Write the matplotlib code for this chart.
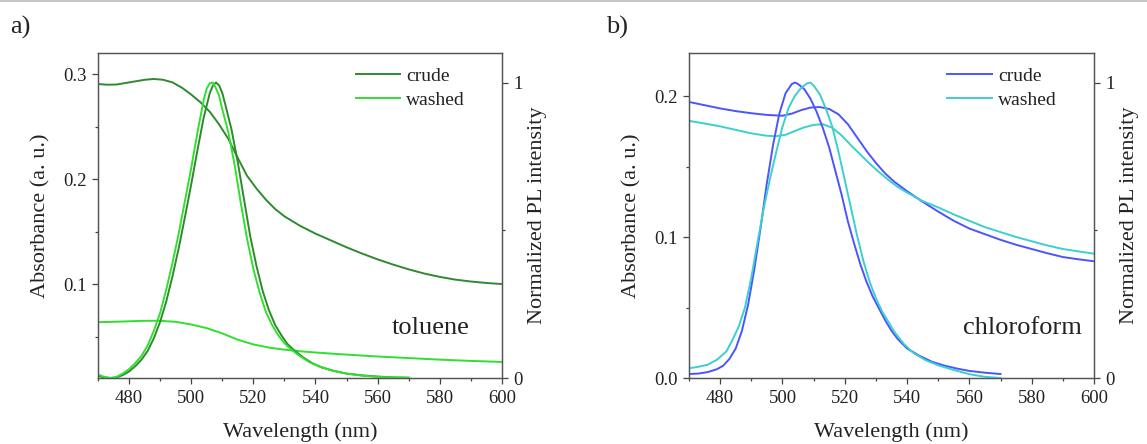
import numpy as np
import matplotlib.pyplot as plt
from matplotlib.lines import Line2D
from matplotlib.ticker import MultipleLocator

plt.rcParams['font.family'] = ['Liberation Serif', 'DejaVu Serif']
plt.rcParams['text.color'] = '#222222'
plt.rcParams['axes.labelcolor'] = '#222222'
plt.rcParams['xtick.color'] = '#444444'
plt.rcParams['ytick.color'] = '#444444'
plt.rcParams['xtick.labelcolor'] = '#222222'
plt.rcParams['ytick.labelcolor'] = '#222222'

# ------------------------------------------------------------------
# a) toluene - absorbance
# ------------------------------------------------------------------
wl_abs_tol_crude = [470, 473, 476, 479, 482, 485, 488, 491, 494, 497, 500, 503, 506, 509,
                    512, 515, 518, 521, 524, 527, 530, 535, 540, 545, 550, 555, 560, 565,
                    570, 575, 580, 585, 590, 595, 600]
abs_tol_crude = [0.2905, 0.2898, 0.2900, 0.2915, 0.2930, 0.2945, 0.2953, 0.2945, 0.2920,
                 0.2870, 0.2805, 0.2730, 0.2640, 0.2520, 0.2380, 0.2200, 0.2030, 0.1910,
                 0.1805, 0.1715, 0.1645, 0.1555, 0.1480, 0.1415, 0.1350, 0.1290, 0.1235,
                 0.1185, 0.1140, 0.1100, 0.1068, 0.1042, 0.1024, 0.1010, 0.1000]

wl_abs_tol_washed = [470, 475, 480, 485, 490, 495, 500, 505, 510, 515, 520, 525, 530, 535,
                     540, 545, 550, 560, 570, 580, 590, 600]
abs_tol_washed = [0.0637, 0.0640, 0.0645, 0.0650, 0.0650, 0.0640, 0.0615, 0.0580, 0.0530,
                  0.0470, 0.0425, 0.0395, 0.0375, 0.0360, 0.0348, 0.0338, 0.0328, 0.0310,
                  0.0295, 0.0280, 0.0268, 0.0258]

# a) toluene - normalized PL
wl_pl_tol_crude = [470, 472, 474, 476, 478, 480, 482, 484, 486, 488, 490, 492, 494, 496,
                   498, 500, 502, 504, 506, 507, 508, 509, 510, 511, 513, 515, 517, 519,
                   521, 523, 525, 527, 529, 531, 533, 536, 539, 542, 546, 550, 555, 560,
                   565, 570]
pl_tol_crude = [0.008, 0.002, 0.0, 0.002, 0.010, 0.022, 0.040, 0.062, 0.092, 0.135, 0.190,
                0.260, 0.345, 0.440, 0.545, 0.655, 0.770, 0.880, 0.965, 0.990, 1.0, 0.990,
                0.965, 0.925, 0.840, 0.730, 0.605, 0.480, 0.380, 0.295, 0.230, 0.180, 0.145,
                0.115, 0.095, 0.070, 0.050, 0.036, 0.024, 0.015, 0.009, 0.005, 0.002, 0.001]

wl_pl_tol_washed = [470, 472, 474, 476, 478, 480, 482, 484, 486, 488, 490, 492, 494, 496,
                    498, 500, 502, 504, 505, 506, 507, 508, 509, 510, 512, 514, 516, 518,
                    520, 522, 524, 526, 528, 530, 532, 535, 538, 541, 545, 550, 555, 560,
                    565, 570]
pl_tol_washed = [0.012, 0.004, 0.0, 0.004, 0.015, 0.030, 0.050, 0.075, 0.110, 0.160, 0.220,
                 0.300, 0.390, 0.490, 0.600, 0.710, 0.830, 0.940, 0.980, 0.998, 1.0, 0.980,
                 0.955, 0.910, 0.830, 0.720, 0.590, 0.470, 0.370, 0.290, 0.225, 0.180, 0.145,
                 0.118, 0.098, 0.074, 0.054, 0.040, 0.026, 0.015, 0.008, 0.004, 0.002, 0.001]

# ------------------------------------------------------------------
# b) chloroform - absorbance
# ------------------------------------------------------------------
wl_abs_chl_crude = [470, 475, 480, 485, 490, 495, 500, 503, 506, 509, 512, 515, 518, 521,
                    524, 527, 530, 533, 536, 540, 545, 550, 555, 560, 565, 570, 575, 580,
                    585, 590, 595, 600]
abs_chl_crude = [0.1958, 0.1935, 0.1912, 0.1893, 0.1878, 0.1866, 0.1860, 0.1875, 0.1900,
                 0.1918, 0.1922, 0.1908, 0.1870, 0.1800, 0.1705, 0.1610, 0.1525, 0.1450,
                 0.1390, 0.1325, 0.1250, 0.1180, 0.1115, 0.1060, 0.1020, 0.0980, 0.0945,
                 0.0915, 0.0885, 0.0858, 0.0842, 0.0828]

wl_abs_chl_washed = [470, 475, 480, 485, 490, 495, 498, 501, 504, 507, 510, 513, 516, 519,
                     522, 525, 528, 531, 534, 537, 540, 545, 550, 555, 560, 565, 570, 575,
                     580, 585, 590, 595, 600]
abs_chl_washed = [0.1824, 0.1805, 0.1785, 0.1760, 0.1735, 0.1718, 0.1715, 0.1725, 0.1752,
                  0.1778, 0.1795, 0.1800, 0.1775, 0.1720, 0.1650, 0.1585, 0.1520, 0.1460,
                  0.1405, 0.1355, 0.1315, 0.1255, 0.1210, 0.1160, 0.1115, 0.1070, 0.1035,
                  0.1000, 0.0970, 0.0940, 0.0915, 0.0898, 0.0882]

# b) chloroform - normalized PL
wl_pl_chl_crude = [470, 473, 476, 479, 481, 483, 485, 487, 489, 491, 493, 495, 497, 499,
                   501, 503, 504, 505, 507, 509, 511, 513, 515, 517, 519, 521, 523, 525,
                   527, 529, 531, 533, 535, 537, 540, 544, 548, 552, 556, 560, 565, 570]
pl_chl_crude = [0.0135, 0.015, 0.020, 0.030, 0.042, 0.065, 0.100, 0.160, 0.250, 0.370,
                0.510, 0.660, 0.790, 0.895, 0.964, 0.995, 1.0, 0.995, 0.978, 0.945, 0.900,
                0.845, 0.780, 0.700, 0.620, 0.530, 0.455, 0.385, 0.325, 0.275, 0.235, 0.195,
                0.160, 0.132, 0.100, 0.075, 0.055, 0.042, 0.032, 0.024, 0.018, 0.0135]

wl_pl_chl_washed = [470, 473, 476, 479, 482, 484, 486, 488, 490, 492, 494, 496, 498, 500,
                    502, 504, 506, 508, 509, 510, 512, 514, 516, 518, 520, 522, 524, 526,
                    528, 530, 532, 534, 536, 539, 542, 546, 550, 555, 560, 565, 570]
pl_chl_washed = [0.033, 0.038, 0.045, 0.062, 0.090, 0.130, 0.175, 0.240, 0.340, 0.460,
                 0.575, 0.675, 0.765, 0.850, 0.915, 0.955, 0.982, 0.998, 1.0, 0.990, 0.960,
                 0.910, 0.850, 0.765, 0.670, 0.575, 0.480, 0.395, 0.325, 0.270, 0.225, 0.190,
                 0.155, 0.115, 0.085, 0.060, 0.043, 0.027, 0.013, 0.004, 0.0]

labels = ['crude', 'washed']
col_tol = ['#2f8a2f', '#2fe02f']
col_chl = ['#4a55ff', '#3ccfcf']

fig = plt.figure(figsize=(11.47, 4.44), dpi=100)
fig.add_artist(Line2D([0, 1], [1 - 1.5 / 444, 1 - 1.5 / 444], color='#bbbbbb', lw=1.2))

panels = [
    dict(pos=[0.0854, 0.1486, 0.3522, 0.732], ylim=(0.0105, 0.32), yt=[0.1, 0.2, 0.3],
         ytl=['0.1', '0.2', '0.3'], cols=col_tol, solvent='toluene', tag='a)', tagx=10 / 1147,
         abs_data=[(wl_abs_tol_crude, abs_tol_crude), (wl_abs_tol_washed, abs_tol_washed)],
         pl_data=[(wl_pl_tol_crude, pl_tol_crude), (wl_pl_tol_washed, pl_tol_washed)]),
    dict(pos=[0.6007, 0.1486, 0.3531, 0.732], ylim=(0.0, 0.2305), yt=[0.0, 0.1, 0.2],
         ytl=['0.0', '0.1', '0.2'], cols=col_chl, solvent='chloroform', tag='b)', tagx=606 / 1147,
         abs_data=[(wl_abs_chl_crude, abs_chl_crude), (wl_abs_chl_washed, abs_chl_washed)],
         pl_data=[(wl_pl_chl_crude, pl_chl_crude), (wl_pl_chl_washed, pl_chl_washed)]),
]

for p in panels:
    ax = fig.add_axes(p['pos'])
    ax2 = ax.twinx()
    handles = []
    for (x, y), c, lab in zip(p['abs_data'], p['cols'], labels):
        h, = ax.plot(x, y, color=c, lw=1.4, label=lab)
        handles.append(h)
    for (x, y), c in zip(p['pl_data'], p['cols']):
        ax2.plot(x, y, color=c, lw=1.4)

    ax.set_xlim(470, 600)
    ax.set_ylim(*p['ylim'])
    ax2.set_ylim(0, 1.10)
    ax.set_xticks([480, 500, 520, 540, 560, 580, 600])
    ax.xaxis.set_minor_locator(MultipleLocator(10))
    ax.set_yticks(p['yt'])
    ax.set_yticklabels(p['ytl'])
    ax.yaxis.set_minor_locator(MultipleLocator(0.05))
    ax2.set_yticks([0, 1])
    ax2.set_yticklabels(['0', '1'])
    ax2.yaxis.set_minor_locator(MultipleLocator(0.5))

    for a in (ax, ax2):
        a.tick_params(which='major', direction='out', length=4.3, width=0.9, pad=4, labelsize=13.5)
        a.tick_params(which='minor', direction='out', length=2.3, width=0.9)
        for s in a.spines.values():
            s.set_color('#555555')
            s.set_linewidth(0.9)

    ax.set_xlabel('Wavelength (nm)', fontsize=16)
    ax.xaxis.set_label_coords(0.5, -0.135)
    ax.set_ylabel('Absorbance (a. u.)', fontsize=16)
    ax.yaxis.set_label_coords(-0.118, 0.5)
    ax2.set_ylabel('Normalized PL intensity', fontsize=16, rotation=90)
    ax2.yaxis.set_label_coords(1.064, 0.5)

    ax2.text(0.824, 0.154, p['solvent'], transform=ax.transAxes, fontsize=19,
             ha='center', va='center')
    ax2.legend(handles=handles, loc='upper left', bbox_to_anchor=(0.638, 0.955),
               frameon=False, fontsize=14, handlelength=2.3, handletextpad=0.3,
               labelspacing=0.3, borderpad=0, borderaxespad=0)
    fig.text(p['tagx'], 1 - 27 / 444, p['tag'], fontsize=19, ha='left', va='center')

plt.savefig('out.png', dpi=100)
